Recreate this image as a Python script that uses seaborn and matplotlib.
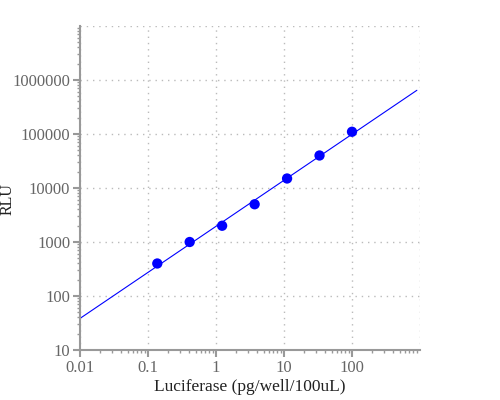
import numpy as np
import pandas as pd
import matplotlib
matplotlib.use("Agg")
import matplotlib.pyplot as plt
from matplotlib.ticker import LogLocator, NullFormatter, FixedLocator
import seaborn as sns

# standard curve values
luciferase = [0.137, 0.41, 1.23, 3.7, 11.1, 33.3, 100.0]
rlu = [400, 1000, 2000, 5000, 15000, 40000, 110000]

x_ticks = [0.01, 0.1, 1, 10, 100]
x_labels = ["0.01", "0.1", "1", "10", "100"]
y_ticks = [10, 100, 1000, 10000, 100000, 1000000]
y_labels = ["10", "100", "1000", "10000", "100000", "1000000"]

sns.set_theme(style="white")
plt.rcParams["font.family"] = ["Liberation Serif", "DejaVu Serif"]

df = pd.DataFrame({"x": luciferase, "y": rlu})

# log-log linear fit
slope, intercept = np.polyfit(np.log10(df["x"]), np.log10(df["y"]), 1)
fit_x = np.logspace(-2, np.log10(900), 50)
fit_df = pd.DataFrame({"x": fit_x, "y": 10 ** (intercept + slope * np.log10(fit_x))})

fig = plt.figure(figsize=(5, 4), dpi=100)
ax = fig.add_axes([0.16, 0.125, 0.68, 0.81])

grid_kw = dict(color="#bbbbbb", linewidth=1.0, linestyle=(0, (1, 3.5)), zorder=0)
for v in x_ticks + [1000]:
    ax.axvline(v, **grid_kw)
for v in y_ticks + [1e7]:
    ax.axhline(v, **grid_kw)

sns.lineplot(data=fit_df, x="x", y="y", ax=ax, color="#0000ff", linewidth=0.8, zorder=2)
sns.scatterplot(data=df, x="x", y="y", ax=ax, color="#0000ff", s=55,
                edgecolor="none", zorder=3)

ax.set_xscale("log")
ax.set_yscale("log")
ax.set_xlim(0.01, 1000)
ax.set_ylim(10, 1e7)

ax.xaxis.set_major_locator(FixedLocator(x_ticks))
ax.set_xticklabels(x_labels)
ax.yaxis.set_major_locator(FixedLocator(y_ticks))
ax.set_yticklabels(y_labels)
ax.xaxis.set_minor_locator(LogLocator(base=10, subs=np.arange(2, 10)))
ax.yaxis.set_minor_locator(LogLocator(base=10, subs=np.arange(2, 10)))
ax.xaxis.set_minor_formatter(NullFormatter())
ax.yaxis.set_minor_formatter(NullFormatter())

ax.tick_params(axis="both", which="major", direction="out", length=5, width=1.5,
               color="#999999", labelcolor="#666666", labelsize=12, pad=2)
ax.tick_params(axis="both", which="minor", direction="out", length=2, width=1,
               color="#999999")
ax.tick_params(left=True, bottom=True, which="both")

for side in ["top", "right"]:
    ax.spines[side].set_visible(False)
for side in ["left", "bottom"]:
    ax.spines[side].set_color("#999999")
    ax.spines[side].set_linewidth(1.5)

ax.set_xlabel("Luciferase (pg/well/100uL)", fontsize=12.5, color="#222222")
ax.set_ylabel("RLU", fontsize=11.5, color="#222222")
ax.xaxis.set_label_coords(0.5, -0.09)
ax.yaxis.set_label_coords(-0.188, 0.466)
ax.grid(False)

fig.savefig("out.png", dpi=100)
